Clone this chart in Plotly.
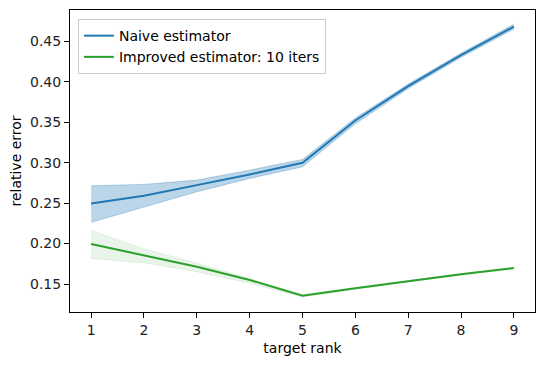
import plotly.graph_objs as go

# datos
rank = [1, 2, 3, 4, 5, 6, 7, 8, 9]

naive = [0.2496, 0.259, 0.2722, 0.2854, 0.2998, 0.352, 0.3944, 0.4327, 0.4680]
naive_hi = [0.2714, 0.2731, 0.2784, 0.2907, 0.304, 0.355, 0.3970, 0.4352, 0.4710]
naive_lo = [0.2262, 0.2447, 0.264, 0.2805, 0.2948, 0.348, 0.3915, 0.4300, 0.4650]

improved = [0.1994, 0.1854, 0.1714, 0.155, 0.1356, 0.1447, 0.1537, 0.162, 0.1698]
improved_hi = [0.2163, 0.1936, 0.1756, 0.157, 0.1370, 0.1457, 0.1547, 0.1630, 0.1708]
improved_lo = [0.1817, 0.1763, 0.1652, 0.151, 0.1340, 0.1437, 0.1527, 0.1610, 0.1688]

blue = '#1f77b4'
green = '#2ca02c'

fig = go.Figure()

# banda azul
fig.add_trace(go.Scatter(x=rank, y=naive_hi, mode='lines',
                         line=dict(color='rgba(31,119,180,0.3)', width=1),
                         showlegend=False, hoverinfo='skip'))
fig.add_trace(go.Scatter(x=rank, y=naive_lo, mode='lines', fill='tonexty',
                         fillcolor='rgba(31,119,180,0.3)',
                         line=dict(color='rgba(31,119,180,0.3)', width=1),
                         showlegend=False, hoverinfo='skip'))

# banda verde
fig.add_trace(go.Scatter(x=rank, y=improved_hi, mode='lines',
                         line=dict(color='rgba(44,160,44,0.1)', width=1),
                         showlegend=False, hoverinfo='skip'))
fig.add_trace(go.Scatter(x=rank, y=improved_lo, mode='lines', fill='tonexty',
                         fillcolor='rgba(44,160,44,0.1)',
                         line=dict(color='rgba(44,160,44,0.1)', width=1),
                         showlegend=False, hoverinfo='skip'))

# líneas principales
fig.add_trace(go.Scatter(x=rank, y=naive, mode='lines', name='Naive estimator',
                         line=dict(color=blue, width=2)))
fig.add_trace(go.Scatter(x=rank, y=improved, mode='lines', name='Improved estimator: 10 iters',
                         line=dict(color=green, width=2)))

axis_style = dict(showgrid=False, zeroline=False, showline=True, linecolor='black',
                  linewidth=1, mirror=True, ticks='outside', ticklen=5,
                  tickcolor='black', automargin=False,
                  tickfont=dict(size=14, color='#222'))

# la página añade 8 px de margen al cuerpo, se compensa en el tamaño
fig.update_layout(
    width=537, height=357,
    margin=dict(l=62, r=10, t=2, b=53),
    paper_bgcolor='white', plot_bgcolor='white',
    font=dict(family='DejaVu Sans', size=14, color='black'),
    xaxis=dict(title=dict(text='target rank', font=dict(size=14), standoff=6),
               range=[0.6, 9.4], tickvals=rank, **axis_style),
    yaxis=dict(title=dict(text='relative error', font=dict(size=14), standoff=8),
               range=[0.1155, 0.4885], tickvals=[0.15, 0.2, 0.25, 0.3, 0.35, 0.4, 0.45],
               ticktext=['0.15', '0.20', '0.25', '0.30', '0.35', '0.40', '0.45'], **axis_style),
    legend=dict(x=0.017, y=0.97, xanchor='left', yanchor='top', traceorder='normal',
                bordercolor='#cccccc', borderwidth=1, bgcolor='rgba(255,255,255,0.8)',
                font=dict(size=14), tracegroupgap=0),
)

fig.write_html("out.html")
